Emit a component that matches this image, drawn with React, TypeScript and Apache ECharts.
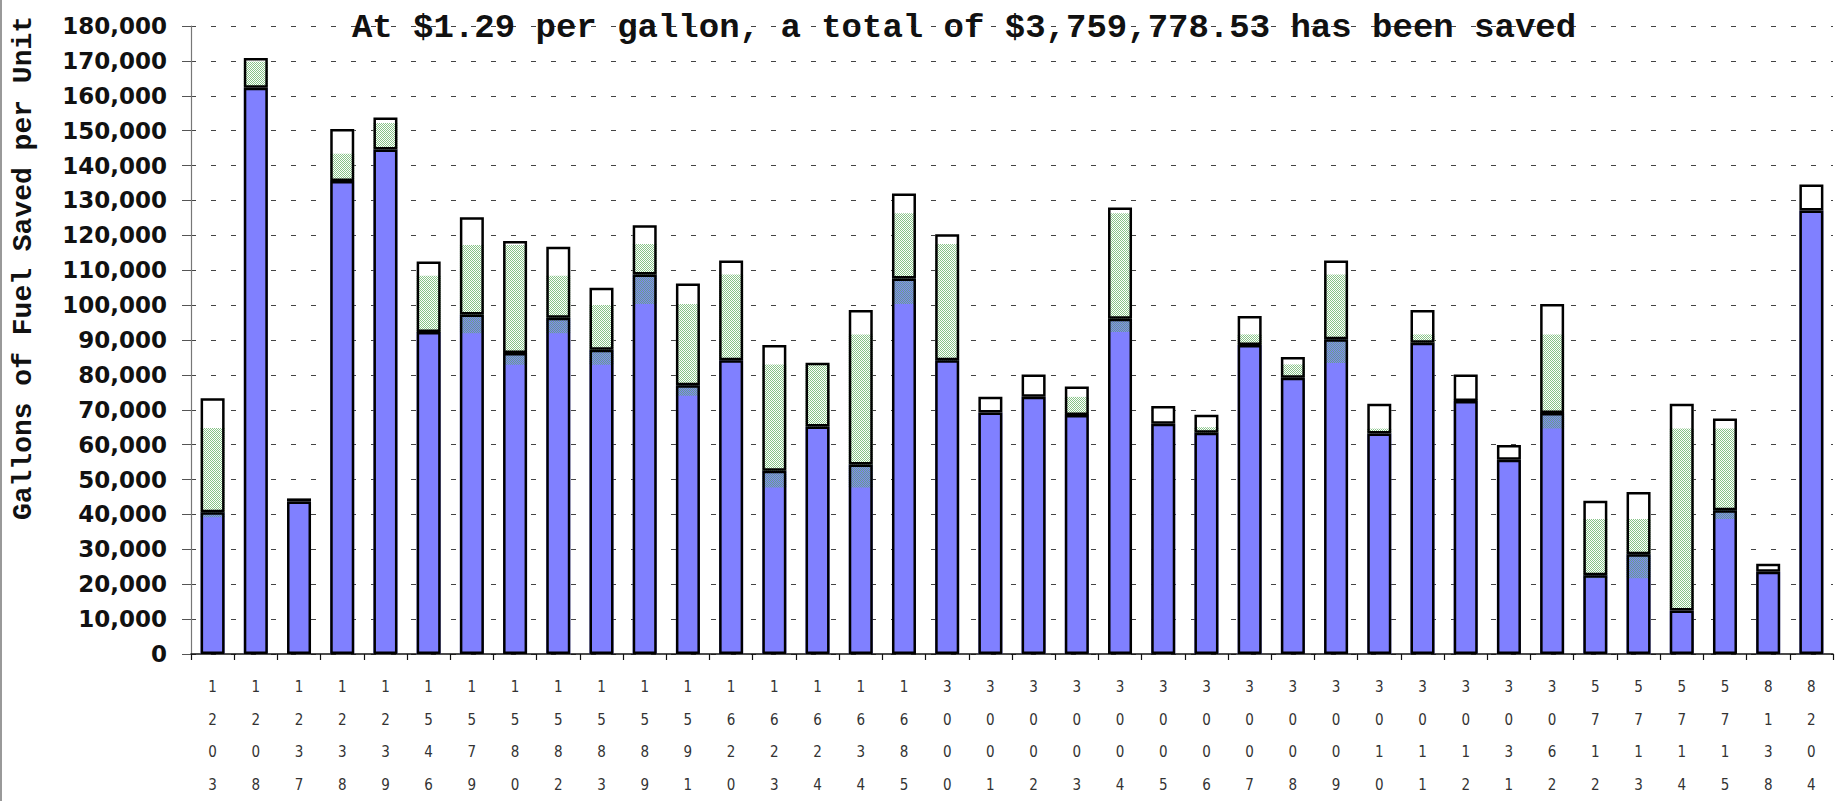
import React, { useEffect, useRef } from "react";
import * as echarts from "echarts";

const categories = [
  "1203", "1208", "1237", "1238", "1239", "1546", "1579", "1580", "1582", "1583",
  "1589", "1591", "1620", "1623", "1624", "1634", "1685", "3000", "3001", "3002",
  "3003", "3004", "3005", "3006", "3007", "3008", "3009", "3010", "3011", "3012",
  "3031", "3062", "5712", "5713", "5714", "5715", "8138", "8204",
];

// bottom (blue) segment top
const blueValues = [
  40600, 162300, 43700, 135600, 144600, 92300, 97300, 86300, 96400, 87200,
  108800, 77000, 84200, 52500, 65200, 54300, 107600, 84200, 69200, 73700,
  68500, 96100, 66000, 63400, 88600, 79200, 90200, 63200, 89200, 72500,
  55700, 69100, 22600, 28600, 12500, 41200, 23600, 127100,
];

// total bar height (top of white segment)
const totalValues = [
  73300, 170800, 44600, 150500, 153800, 112500, 125200, 118400, 116700, 105000,
  122900, 106200, 112800, 88600, 83500, 98600, 132000, 120300, 73700, 80100,
  76700, 128000, 71100, 68600, 96900, 85100, 112800, 71700, 98600, 80100,
  59900, 100300, 43900, 46400, 71700, 67500, 25900, 134600,
];

// stippled green band: lower and upper bound (0 = none)
const greenLow = [
  39200, 162600, 0, 135600, 144600, 91900, 91900, 82900, 91900, 82900,
  100300, 74000, 84200, 47700, 65000, 47700, 100300, 84000, 0, 0,
  68500, 92300, 0, 63400, 88600, 79200, 83400, 63200, 89200, 72500,
  0, 64600, 21700, 21700, 12700, 38700, 0, 0,
];
const greenHigh = [
  64800, 169800, 0, 143400, 152200, 108400, 117200, 117200, 108400, 100000,
  117500, 100300, 108800, 83000, 83000, 91600, 126300, 117500, 0, 0,
  73700, 126300, 0, 65000, 91600, 83000, 108800, 64600, 91600, 73100,
  0, 91600, 38700, 38700, 64600, 64600, 0, 0,
];

const yTicks = { min: 0, max: 180000, interval: 10000 };

const titleText = "At $1.29 per gallon, a total of $3,759,778.53 has been saved";
const yName = "Gallons of Fuel Saved per Unit";

export default function App() {
  const ref = useRef<HTMLDivElement>(null);

  useEffect(() => {
    if (!ref.current) return;
    const chart = echarts.init(ref.current, null, { renderer: "svg" });

    const c = document.createElement("canvas");
    c.width = 2;
    c.height = 2;
    const ctx = c.getContext("2d");
    if (ctx) {
      ctx.clearRect(0, 0, 2, 2);
      ctx.fillStyle = "rgba(95,175,95,0.75)";
      ctx.fillRect(0, 0, 1, 1);
      ctx.fillRect(1, 1, 1, 1);
    }
    const greenFill: any = { image: c, repeat: "repeat" };

    const barW = 24;
    const clear = "rgba(0,0,0,0)";
    const whiteSeg = totalValues.map((t, i) => t - blueValues[i]);
    const gBase = greenLow.map((v, i) => (greenHigh[i] > 0 ? v : 0));
    const gSize = greenHigh.map((v, i) => (v > 0 ? v - greenLow[i] : 0));

    const option: any = {
      animation: false,
      backgroundColor: "#ffffff",
      grid: { left: 191, right: 10, top: 26, bottom: 140, containLabel: false },
      xAxis: {
        type: "category",
        data: categories,
        boundaryGap: true,
        axisLine: { show: true, lineStyle: { color: "#111", width: 1.5 } },
        axisTick: { show: true, length: 6, lineStyle: { color: "#111", width: 1.2 } },
        axisLabel: {
          interval: 0,
          margin: 17,
          formatter: (v: string) => v.split("").join("\n"),
          lineHeight: 32.5,
          fontSize: 15,
          color: "#333",
          fontFamily: "'Liberation Sans Narrow', 'DejaVu Sans Condensed', 'Liberation Sans', sans-serif",
          verticalAlign: "top",
        },
        splitLine: { show: false },
      },
      yAxis: {
        type: "value",
        min: yTicks.min,
        max: yTicks.max,
        interval: yTicks.interval,
        axisLine: { show: true, lineStyle: { color: "#777", width: 1.2 } },
        axisTick: { show: true, length: 9, lineStyle: { color: "#555", width: 1 } },
        axisLabel: {
          margin: 24,
          fontSize: 23,
          fontWeight: "bold",
          color: "#111",
          fontFamily: "'DejaVu Sans', sans-serif",
          formatter: (v: number) => v.toLocaleString("en-US"),
        },
        splitLine: {
          show: true,
          lineStyle: { type: [5, 15], color: "#444", width: 1 },
        },
      },
      graphic: [
        {
          type: "text",
          x: 964,
          y: 28,
          style: {
            text: titleText,
            align: "center",
            verticalAlign: "middle",
            font: "bold 34px 'Liberation Mono', 'Courier New', monospace",
            fill: "#111",
          },
          z: 100,
        },
        {
          type: "text",
          x: 23,
          y: 268,
          rotation: Math.PI / 2,
          style: {
            text: yName,
            align: "center",
            verticalAlign: "middle",
            font: "bold 28px 'Liberation Mono', 'Courier New', monospace",
            fill: "#111",
          },
        },
        {
          type: "line",
          shape: { x1: 1, y1: 0, x2: 1, y2: 801 },
          style: { stroke: "#999", lineWidth: 2 },
        },
      ],
      series: [
        {
          name: "Blue",
          type: "bar",
          stack: "a",
          barWidth: barW,
          barGap: "-100%",
          data: blueValues,
          itemStyle: { color: "#8080ff" },
        },
        {
          name: "White",
          type: "bar",
          stack: "a",
          barWidth: barW,
          data: whiteSeg,
          itemStyle: { color: "#ffffff" },
        },
        {
          name: "gBase",
          type: "bar",
          stack: "g",
          barWidth: barW,
          data: gBase,
          itemStyle: { color: clear },
          silent: true,
        },
        {
          name: "Green",
          type: "bar",
          stack: "g",
          barWidth: barW,
          data: gSize,
          itemStyle: { color: greenFill },
        },
        {
          name: "blueOutline",
          type: "bar",
          stack: "o",
          barWidth: barW,
          data: blueValues,
          itemStyle: { color: clear, borderColor: "#000", borderWidth: 2.5 },
        },
        {
          name: "topOutline",
          type: "bar",
          stack: "o",
          barWidth: barW,
          data: whiteSeg,
          itemStyle: { color: clear, borderColor: "#000", borderWidth: 2.5 },
        },
      ],
    };

    chart.setOption(option);
    return () => chart.dispose();
  }, []);

  return (
    <div
      ref={ref}
      style={{ position: "fixed", left: 0, top: 0, width: 1843, height: 801, background: "#fff" }}
    />
  );
}
